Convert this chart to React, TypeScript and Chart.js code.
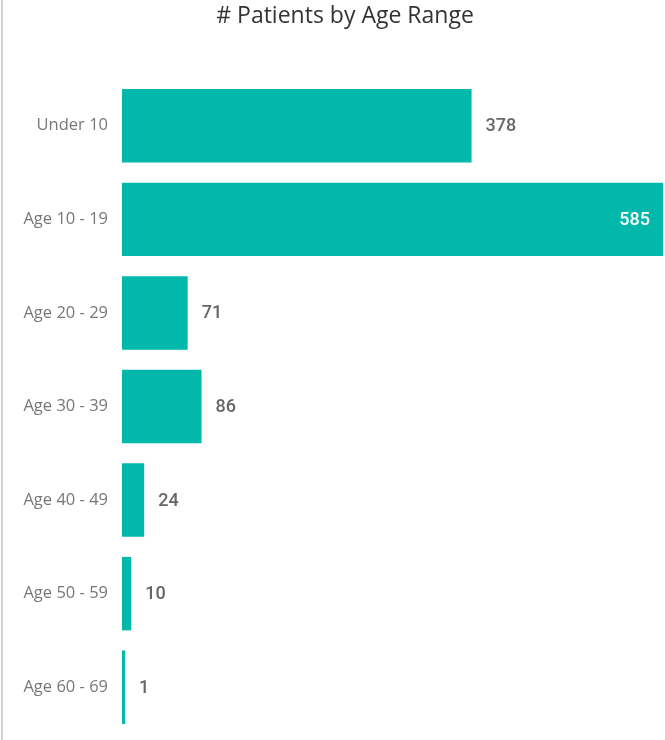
import React, { useEffect, useRef } from "react";
import { Chart, registerables } from "chart.js";

Chart.register(...registerables);

const title = "# Patients by Age Range";
const categories = ["Under 10", "Age 10 - 19", "Age 20 - 29", "Age 30 - 39", "Age 40 - 49", "Age 50 - 59", "Age 60 - 69"];
const patients = [378, 585, 71, 86, 24, 10, 1];

const BAR_COLOR = "#01B8AA";

const decorPlugin = {
  id: "decor",
  afterDatasetsDraw(chart: any) {
    const { ctx, chartArea } = chart;
    const meta = chart.getDatasetMeta(0);
    ctx.save();
    ctx.font = "500 18px Roboto";
    ctx.textBaseline = "middle";
    meta.data.forEach((bar: any, i: number) => {
      const txt = String(patients[i]);
      const w = ctx.measureText(txt).width;
      if (bar.x + 14 + w > chartArea.right) {
        ctx.fillStyle = "#ffffff";
        ctx.textAlign = "right";
        ctx.fillText(txt, bar.x - 13, bar.y + 1);
      } else {
        ctx.fillStyle = "#666666";
        ctx.textAlign = "left";
        ctx.fillText(txt, bar.x + 14, bar.y + 1);
      }
    });
    ctx.font = "23px 'Open Sans'";
    ctx.fillStyle = "#333333";
    ctx.textAlign = "center";
    ctx.textBaseline = "middle";
    ctx.fillText(title, 345, 16);
    ctx.restore();
  },
};

export default function App() {
  const ref = useRef<HTMLCanvasElement>(null);
  useEffect(() => {
    document.body.style.margin = "0";
    const chart = new Chart(ref.current!, {
      type: "bar",
      data: {
        labels: categories,
        datasets: [
          {
            data: patients,
            backgroundColor: BAR_COLOR,
            categoryPercentage: 1,
            barPercentage: 0.785,
            minBarLength: 3,
          },
        ],
      },
      options: {
        indexAxis: "y",
        animation: false,
        responsive: false,
        maintainAspectRatio: false,
        layout: { padding: { top: 79, bottom: 6, left: 0, right: 2 } },
        plugins: { legend: { display: false }, title: { display: false }, tooltip: { enabled: false } },
        scales: {
          x: { display: false, min: 0, max: 585 },
          y: {
            grid: { display: false, drawTicks: false },
            border: { display: false },
            ticks: { color: "#777777", font: { family: "'Open Sans'", size: 16.5 }, padding: 14 },
            afterFit: (scale: any) => {
              scale.width = 122;
              scale.paddingTop = 0;
              scale.paddingBottom = 0;
            },
          },
        },
      },
      plugins: [decorPlugin],
    });
    return () => chart.destroy();
  }, []);
  return (
    <div style={{ position: "relative", width: 665, height: 740 }}>
      <div style={{ position: "absolute", left: 1, top: 0, width: 2, height: 740, background: "#d4d4d4" }} />
      <canvas ref={ref} width={665} height={740} style={{ display: "block" }} />
    </div>
  );
}
